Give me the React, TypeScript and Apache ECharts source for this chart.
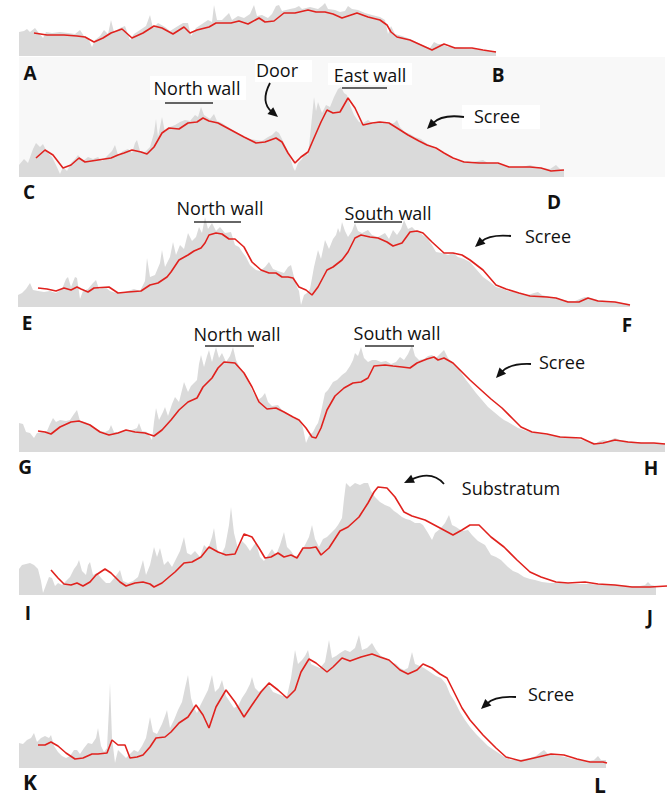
import React, { useEffect, useRef } from "react";
import * as echarts from "echarts";

// Profile data: [x(px along section), height above baseline(px)] pairs, flattened
const redAB = [34,23, 47,21, 64,21, 77,20, 85,19, 94,14, 103,18, 111,23, 122,27, 132,18, 143,23, 154,30, 162,28, 173,22, 184,29, 190,23, 197,26, 209,29, 216,33, 231,33, 239,35, 248,32, 259,38, 265,34, 274,35, 284,43, 295,43, 308,46, 316,44, 325,44, 333,42, 342,38, 348,40, 357,43, 368,39, 380,36, 387,31, 391,24, 397,19, 410,16, 421,11, 432,6, 444,12, 455,8, 472,8, 483,6, 496,4];
const grayAB = [19,24, 24,25, 27,27, 30,24, 35,28, 38,24, 43,18, 46,24, 52,23, 60,24, 68,23, 75,22, 80,26, 84,20, 88,18, 92,9, 95,16, 100,20, 104,26, 108,22, 111,36, 114,24, 120,28, 125,30, 130,16, 134,22, 140,26, 146,30, 150,41, 153,28, 158,33, 165,29, 170,25, 178,30, 183,33, 188,33, 191,20, 196,28, 202,32, 208,36, 212,34, 214,51, 217,36, 222,36, 226,40, 229,43, 232,36, 238,40, 244,38, 250,42, 254,51, 257,40, 262,41, 268,38, 272,42, 276,50, 279,51, 282,45, 290,47, 295,48, 299,50, 302,47, 310,49, 318,47, 322,50, 325,53, 328,47, 335,46, 340,44, 345,45, 348,50, 352,47, 358,46, 365,43, 372,41, 380,39, 385,36, 388,22, 391,30, 395,22, 402,20, 410,17, 418,13, 425,10, 430,8, 434,14, 438,12, 442,12, 448,9, 455,9, 465,8, 475,7, 485,5, 490,5, 496,5];

const redCD = [36,19, 45,27, 53,22, 63,9, 71,12, 79,19, 85,15, 98,17, 111,19, 118,22, 124,24, 132,27, 141,25, 147,23, 154,30, 162,44, 169,49, 179,48, 188,54, 197,55, 203,59, 209,56, 218,54, 231,47, 244,40, 256,34, 265,35, 276,39, 282,35, 288,24, 295,14, 301,20, 308,25, 314,39, 321,55, 327,67, 333,64, 340,65, 348,79, 355,69, 363,52, 372,54, 380,55, 389,54, 397,49, 408,42, 419,36, 427,32, 436,29, 444,24, 453,19, 464,15, 479,14, 498,14, 509,10, 530,10, 541,9, 551,6, 564,7];
const grayCD = [19,12, 24,18, 28,14, 33,28, 36,34, 40,30, 43,33, 47,25, 52,20, 56,12, 60,3, 63,10, 67,6, 71,14, 75,18, 78,22, 83,16, 88,20, 93,18, 98,20, 102,16, 108,22, 112,26, 115,32, 118,22, 123,26, 128,28, 132,24, 135,34, 137,37, 140,26, 145,25, 150,30, 154,44, 156,58, 158,40, 162,60, 165,45, 170,50, 175,52, 180,55, 185,57, 190,56, 195,62, 198,60, 201,70, 204,62, 210,58, 214,63, 217,56, 222,54, 228,50, 234,46, 239,43, 245,40, 250,38, 256,37, 262,36, 268,40, 272,42, 276,46, 279,44, 282,38, 286,30, 290,20, 293,10, 295,6, 298,14, 302,18, 305,24, 308,22, 311,50, 314,80, 316,66, 318,75, 322,64, 326,72, 330,70, 334,80, 338,88, 341,90, 344,84, 347,82, 350,72, 354,62, 359,55, 363,54, 368,57, 373,53, 378,56, 384,54, 390,53, 394,54, 397,57, 400,50, 405,45, 410,43, 415,40, 421,38, 426,34, 432,30, 437,27, 442,24, 446,22, 449,22, 452,18, 458,16, 465,16, 472,15, 478,16, 483,17, 488,14, 495,14, 502,12, 508,10, 515,10, 522,10, 530,12, 536,10, 542,9, 550,8, 556,12, 560,8, 564,7];

const redEF = [38,19, 47,18, 56,16, 64,19, 71,17, 77,20, 81,18, 88,15, 94,19, 109,20, 118,14, 128,15, 141,16, 150,22, 158,24, 167,30, 171,35, 179,47, 188,52, 194,56, 201,59, 205,64, 209,72, 216,74, 222,73, 229,68, 235,68, 244,60, 252,45, 261,37, 269,34, 276,34, 282,30, 288,30, 293,29, 299,20, 306,17, 312,12, 318,20, 327,37, 333,40, 342,47, 348,55, 355,69, 361,72, 370,70, 378,69, 387,65, 393,61, 402,64, 410,75, 417,76, 423,74, 432,65, 444,54, 453,54, 462,52, 470,47, 483,37, 496,22, 506,18, 519,14, 530,11, 547,10, 556,9, 568,5, 579,5, 588,9, 598,6, 615,5, 630,2];
const grayEF = [18,12, 22,14, 26,18, 30,24, 33,17, 38,16, 44,15, 50,16, 56,14, 62,18, 66,28, 68,30, 71,20, 75,30, 77,29, 80,8, 83,16, 88,18, 93,24, 96,27, 99,18, 105,20, 110,16, 116,14, 122,14, 128,16, 134,18, 140,16, 145,26, 147,49, 150,30, 155,32, 160,44, 162,57, 165,40, 170,50, 173,65, 176,52, 180,62, 184,58, 188,74, 192,66, 196,70, 199,80, 202,74, 205,90, 208,78, 212,84, 216,76, 220,80, 225,74, 231,75, 235,62, 239,60, 243,54, 246,50, 250,42, 256,37, 260,36, 265,40, 269,45, 273,38, 278,36, 284,34, 288,40, 291,42, 294,30, 297,20, 299,16, 301,2, 304,12, 307,14, 310,18, 314,40, 318,57, 321,48, 325,67, 329,58, 333,68, 336,72, 338,79, 340,74, 342,85, 345,76, 348,70, 352,76, 355,84, 358,76, 362,74, 368,77, 372,72, 378,70, 385,74, 389,68, 393,77, 397,72, 401,78, 404,87, 408,78, 412,80, 416,76, 420,74, 427,69, 432,62, 436,55, 442,54, 448,52, 453,54, 458,50, 464,48, 470,45, 476,38, 483,30, 490,25, 496,20, 503,18, 508,16, 513,15, 520,14, 528,12, 534,14, 538,15, 542,12, 550,10, 560,8, 568,6, 575,6, 582,9, 585,10, 590,9, 598,7, 606,6, 615,5, 622,4, 630,3];

const redGH = [38,21, 45,20, 51,18, 60,25, 71,30, 79,31, 90,27, 100,20, 109,17, 118,19, 126,22, 135,20, 145,19, 154,16, 162,22, 171,32, 179,42, 188,50, 197,54, 203,65, 212,74, 218,84, 224,90, 235,89, 244,79, 252,65, 259,50, 267,43, 276,44, 284,40, 293,35, 299,32, 306,24, 312,15, 316,14, 321,24, 327,42, 335,56, 344,64, 353,69, 361,70, 368,74, 374,86, 385,87, 393,86, 402,85, 410,84, 417,89, 427,93, 434,95, 438,92, 444,94, 453,89, 462,80, 470,72, 481,62, 491,53, 502,44, 513,33, 521,25, 532,20, 547,18, 560,15, 581,14, 594,8, 603,9, 615,12, 628,10, 641,9, 654,9, 665,8];
const grayGH = [19,29, 23,28, 26,20, 30,19, 34,14, 37,19, 42,20, 47,21, 50,28, 53,34, 56,30, 60,32, 66,31, 70,32, 74,38, 77,42, 80,31, 85,30, 90,28, 95,24, 100,21, 105,20, 109,22, 111,27, 114,20, 120,20, 126,22, 132,22, 137,24, 139,29, 142,21, 147,20, 152,12, 154,30, 156,44, 159,32, 163,40, 165,45, 168,36, 172,48, 175,55, 179,50, 182,62, 184,70, 188,60, 191,66, 194,69, 197,72, 199,88, 201,97, 204,85, 207,96, 209,102, 212,90, 214,98, 216,105, 219,94, 222,99, 226,90, 230,96, 233,105, 236,92, 240,84, 243,80, 246,75, 250,66, 254,58, 258,52, 262,55, 265,59, 268,50, 272,46, 278,47, 282,42, 288,38, 294,34, 300,32, 303,24, 306,9, 309,16, 313,20, 316,26, 318,29, 321,40, 325,59, 328,62, 333,70, 337,72, 342,77, 346,80, 350,86, 353,92, 355,99, 358,96, 361,105, 364,94, 368,90, 372,92, 376,92, 381,90, 386,91, 391,88, 396,90, 400,95, 404,92, 408,98, 412,107, 415,96, 419,92, 424,93, 428,96, 432,97, 436,94, 440,98, 444,102, 448,94, 453,89, 458,84, 462,78, 466,72, 470,67, 476,59, 482,52, 488,45, 494,40, 500,35, 504,32, 508,30, 513,27, 518,24, 524,22, 530,20, 536,19, 542,18, 550,17, 558,16, 566,15, 574,14, 582,12, 590,10, 596,9, 600,11, 603,12, 608,11, 615,14, 620,12, 628,11, 636,10, 645,9, 655,9, 665,9];

const redIJ = [51,25, 58,17, 64,11, 71,10, 77,12, 83,9, 90,13, 96,20, 105,26, 111,22, 120,13, 126,9, 135,12, 143,13, 150,11, 154,8, 162,12, 169,18, 175,23, 184,32, 192,33, 201,38, 209,48, 218,43, 226,40, 235,41, 244,61, 252,58, 259,47, 265,37, 271,38, 278,42, 284,38, 291,40, 297,37, 303,47, 310,47, 316,48, 321,40, 329,47, 340,64, 348,68, 359,78, 368,92, 374,103, 378,108, 387,107, 395,98, 404,83, 412,79, 425,75, 440,67, 453,60, 462,65, 470,70, 479,70, 491,58, 504,48, 517,35, 530,23, 541,18, 556,13, 568,12, 585,13, 598,11, 615,10, 632,8, 650,8, 667,9];
const grayIJ = [19,26, 22,30, 26,31, 30,32, 34,30, 38,26, 41,14, 43,2, 46,10, 49,18, 52,17, 55,9, 58,12, 62,10, 66,14, 70,18, 74,26, 77,30, 79,35, 82,24, 86,20, 88,30, 90,33, 93,20, 97,22, 102,16, 106,12, 110,12, 115,18, 118,22, 120,25, 123,14, 128,12, 133,14, 138,18, 141,28, 143,35, 146,20, 150,30, 154,48, 157,38, 160,47, 164,30, 168,34, 172,28, 176,36, 180,44, 184,58, 187,42, 191,40, 195,44, 200,38, 204,50, 208,46, 212,58, 214,67, 217,46, 221,40, 225,48, 229,70, 231,88, 234,62, 238,46, 242,54, 246,50, 250,44, 254,50, 256,52, 260,38, 264,34, 268,40, 272,46, 276,40, 280,50, 284,63, 287,48, 291,44, 295,38, 300,42, 305,50, 309,58, 312,70, 315,56, 319,48, 323,56, 327,58, 331,62, 335,66, 338,70, 342,77, 344,96, 346,112, 350,108, 355,112, 360,110, 364,112, 368,112, 371,104, 375,98, 380,93, 385,90, 390,88, 394,84, 397,82, 402,78, 406,76, 410,75, 415,72, 420,72, 423,70, 428,62, 432,55, 435,62, 440,66, 445,72, 449,80, 452,70, 456,68, 462,64, 468,65, 472,60, 478,54, 485,50, 491,40, 496,38, 501,35, 508,28, 513,24, 518,22, 524,18, 530,16, 535,15, 542,13, 550,12, 560,12, 570,11, 580,11, 590,11, 600,10, 610,10, 620,10, 630,9, 640,9, 645,10, 648,13, 651,10, 656,9];

const redKL = [38,23, 45,23, 51,26, 58,22, 66,15, 75,9, 83,10, 92,14, 98,14, 107,15, 112,28, 118,23, 125,23, 130,10, 137,11, 143,13, 150,21, 156,30, 165,31, 171,36, 179,45, 188,51, 196,63, 203,53, 209,40, 216,61, 226,78, 235,66, 244,51, 252,63, 261,76, 269,85, 278,78, 287,70, 295,78, 301,96, 309,109, 316,105, 327,96, 333,101, 342,110, 350,107, 361,111, 372,114, 380,111, 389,108, 400,98, 408,94, 417,98, 423,104, 432,100, 440,94, 447,90, 453,78, 462,60, 470,48, 483,33, 496,20, 506,11, 521,7, 534,10, 551,14, 564,13, 577,9, 590,6, 603,6, 607,5];
const grayKL = [19,25, 23,24, 27,28, 31,30, 34,35, 37,26, 41,30, 45,32, 49,30, 51,33, 54,22, 58,16, 62,12, 66,10, 70,12, 74,18, 77,18, 80,14, 84,20, 88,25, 92,24, 96,30, 98,40, 101,22, 104,16, 107,20, 109,60, 110,85, 112,30, 115,5, 118,18, 122,14, 126,10, 130,14, 134,18, 138,16, 142,22, 146,30, 150,51, 153,36, 157,34, 162,44, 165,52, 167,58, 170,40, 174,48, 178,58, 182,66, 185,80, 188,93, 191,70, 194,60, 197,55, 200,62, 204,70, 208,78, 212,93, 215,76, 219,80, 222,88, 226,72, 230,66, 234,60, 238,62, 242,70, 246,76, 250,84, 252,91, 255,80, 259,76, 263,80, 268,84, 273,76, 278,74, 283,72, 287,72, 291,90, 295,118, 298,104, 302,108, 305,112, 308,118, 311,104, 315,102, 320,100, 325,106, 329,128, 332,110, 336,112, 340,115, 345,118, 350,116, 355,120, 359,133, 362,118, 367,120, 372,125, 376,118, 381,112, 386,110, 391,106, 396,104, 400,100, 404,98, 408,100, 412,116, 415,104, 420,102, 424,100, 430,96, 436,92, 441,90, 446,84, 450,74, 455,66, 460,56, 465,48, 470,41, 476,34, 482,28, 488,22, 494,18, 500,14, 506,10, 512,8, 518,8, 524,9, 530,10, 536,12, 541,16, 544,18, 548,14, 553,13, 560,12, 566,11, 572,9, 580,8, 588,7, 594,8, 598,12, 601,8, 606,8];

const endLetters = [["A", "B"], ["C", "D"], ["E", "F"], ["G", "H"], ["I", "J"], ["K", "L"]];

function pairs(a: number[]): number[][] {
  const out: number[][] = [];
  for (let i = 0; i < a.length; i += 2) out.push([a[i], a[i + 1]]);
  return out;
}

const panels = [
  { gray: grayAB, red: redAB, base: 56, h: 56 },
  { gray: grayCD, red: redCD, base: 177, h: 100 },
  { gray: grayEF, red: redEF, base: 307, h: 110 },
  { gray: grayGH, red: redGH, base: 452, h: 120 },
  { gray: grayIJ, red: redIJ, base: 595, h: 125 },
  { gray: grayKL, red: redKL, base: 768, h: 140 },
];

const letterPos = [
  [[30, 73], [498, 75]],
  [[29, 192], [554, 202]],
  [[27, 323], [627, 325]],
  [[25, 467], [651, 468]],
  [[28, 613], [650, 617]],
  [[30, 782], [600, 785]],
];
const letterSize = [19, 19, 19, 19, 19, 21];

const FONT = "'Open Sans', 'Noto Sans', sans-serif";

function txt(t: string, x: number, y: number, size = 18, weight: any = "normal") {
  return {
    type: "text",
    z: 20,
    x,
    y,
    style: {
      text: t,
      fill: "#111",
      font: `${weight} ${size}px ${FONT}`,
      textAlign: "center",
      textVerticalAlign: "middle",
    },
  };
}

function hline(x1: number, x2: number, y: number) {
  return {
    type: "line",
    z: 20,
    shape: { x1, y1: y, x2, y2: y },
    style: { stroke: "#333", lineWidth: 1.5 },
  };
}

function arrow(sx: number, sy: number, cx: number, cy: number, ex: number, ey: number) {
  const dx = ex - cx;
  const dy = ey - cy;
  const len = Math.hypot(dx, dy);
  const ux = dx / len;
  const uy = dy / len;
  const L = 10;
  const W = 4.5;
  const bx = ex - ux * L;
  const by = ey - uy * L;
  return [
    {
      type: "bezierCurve",
      z: 20,
      shape: { x1: sx, y1: sy, x2: bx + ux * 2, y2: by + uy * 2, cpx1: cx, cpy1: cy },
      style: { stroke: "#111", lineWidth: 1.8, fill: "none" },
    },
    {
      type: "polygon",
      z: 21,
      shape: { points: [[ex, ey], [bx - uy * W, by + ux * W], [bx + uy * W, by - ux * W]] },
      style: { fill: "#111" },
    },
  ];
}

function rect(x: number, y: number, w: number, h: number, fill: string, z: number) {
  return { type: "rect", z, shape: { x, y, width: w, height: h }, style: { fill } };
}

export default function App() {
  const ref = useRef<HTMLDivElement>(null);
  useEffect(() => {
    if (!ref.current) return;
    const chart = echarts.init(ref.current, undefined, { renderer: "svg" });
    const grid: any[] = [];
    const xAxis: any[] = [];
    const yAxis: any[] = [];
    const series: any[] = [];
    panels.forEach((p, i) => {
      grid.push({ left: 0, width: 668, top: p.base - p.h, height: p.h });
      xAxis.push({ type: "value", gridIndex: i, min: 0, max: 668, show: false });
      yAxis.push({ type: "value", gridIndex: i, min: 0, max: p.h, show: false });
      series.push({
        type: "line",
        xAxisIndex: i,
        yAxisIndex: i,
        data: pairs(p.gray),
        symbol: "none",
        lineStyle: { width: 0, color: "#dadada" },
        areaStyle: { color: "#dadada", opacity: 1 },
        z: 2,
        silent: true,
      });
      series.push({
        type: "line",
        xAxisIndex: i,
        yAxisIndex: i,
        data: pairs(p.red),
        symbol: "none",
        lineStyle: { width: 1.6, color: "#e0221e" },
        z: 3,
        silent: true,
      });
    });

    const graphics: any[] = [];
    graphics.push(rect(19, 57, 646, 120, "#f8f8f8", 0));
    // white boxes behind annotations in panel C-D
    graphics.push(rect(150, 76, 96, 24, "#ffffff", 1));
    graphics.push(rect(255, 60, 57, 22, "#ffffff", 1));
    graphics.push(rect(328, 63, 84, 22, "#ffffff", 1));
    graphics.push(rect(462, 105, 78, 24, "#ffffff", 1));

    endLetters.forEach((pair, i) => {
      pair.forEach((l, j) => {
        const [x, y] = letterPos[i][j];
        graphics.push(txt(l, x, y, letterSize[i], "bold"));
      });
    });

    // Panel C-D
    graphics.push(txt("North wall", 197, 88));
    graphics.push(hline(165, 213, 103));
    graphics.push(txt("Door", 277, 70));
    graphics.push(...arrow(270, 83, 260, 102, 278, 117));
    graphics.push(txt("East wall", 370, 75));
    graphics.push(hline(342, 387, 88));
    graphics.push(txt("Scree", 497, 116));
    graphics.push(...arrow(464, 117, 442, 114, 427, 129));
    // Panel E-F
    graphics.push(txt("North wall", 220, 208));
    graphics.push(hline(194, 241, 222));
    graphics.push(txt("South wall", 388, 213));
    graphics.push(hline(354, 402, 222));
    graphics.push(txt("Scree", 548, 236));
    graphics.push(...arrow(511, 236, 490, 234, 475, 247));
    // Panel G-H
    graphics.push(txt("North wall", 237, 334));
    graphics.push(hline(205, 254, 346));
    graphics.push(txt("South wall", 397, 333));
    graphics.push(hline(365, 414, 346));
    graphics.push(txt("Scree", 562, 362));
    graphics.push(...arrow(531, 364, 510, 363, 496, 378));
    // Panel I-J
    graphics.push(txt("Substratum", 511, 488));
    graphics.push(...arrow(444, 484, 432, 470, 404, 483));
    // Panel K-L
    graphics.push(txt("Scree", 551, 694));
    graphics.push(...arrow(516, 697, 495, 696, 481, 709));

    chart.setOption({
      animation: false,
      backgroundColor: "#ffffff",
      grid,
      xAxis,
      yAxis,
      series,
      graphic: { elements: graphics },
    });
    return () => chart.dispose();
  }, []);
  return (
    <div
      ref={ref}
      style={{ position: "fixed", left: 0, top: 0, width: 668, height: 800 }}
    />
  );
}
